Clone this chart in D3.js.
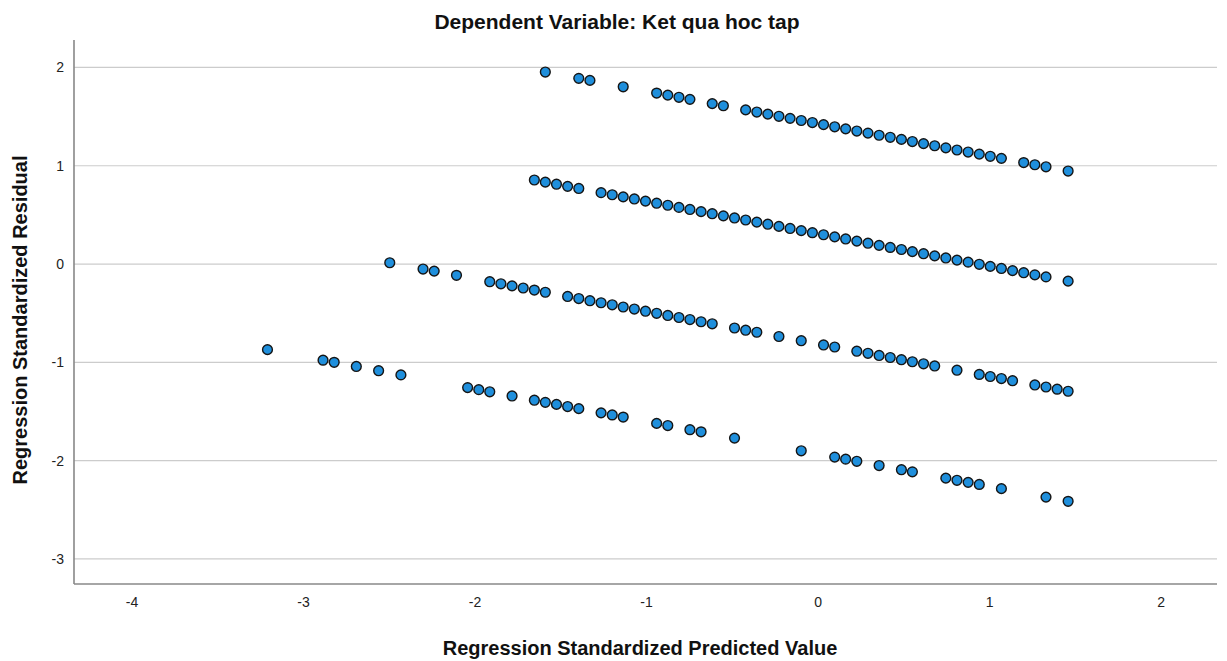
<!DOCTYPE html>
<html>
<head>
<meta charset="utf-8">
<script src="https://cdn.jsdelivr.net/npm/d3@7"></script>
<style>
  html, body { margin: 0; padding: 0; background: #ffffff; }
  svg { display: block; font-family: "Liberation Sans", Arial, sans-serif; }
</style>
</head>
<body>
<svg id="chart" width="1227" height="661"></svg>
<script>
// ---- data ----
const titleText = "Dependent Variable: Ket qua hoc tap";
const xTitle = "Regression Standardized Predicted Value";
const yTitle = "Regression Standardized Residual";
const xTicks = [-4, -3, -2, -1, 0, 1, 2];
const yTicks = [-3, -2, -1, 0, 1, 2];

const band1Pred = [-1.587,-1.392,-1.327,-1.133,-0.938,-0.873,-0.808,-0.744,-0.614,-0.549,-0.419,-0.354,-0.290,-0.225,-0.160,-0.095,-0.030,0.035,0.100,0.164,0.229,0.294,0.359,0.424,0.489,0.553,0.618,0.683,0.748,0.813,0.878,0.943,1.007,1.072,1.202,1.267,1.332,1.461];
const band1Resid = [1.953,1.889,1.868,1.803,1.739,1.718,1.696,1.675,1.632,1.610,1.568,1.546,1.525,1.503,1.482,1.460,1.439,1.418,1.396,1.375,1.353,1.332,1.310,1.289,1.268,1.246,1.225,1.203,1.182,1.160,1.139,1.118,1.096,1.075,1.032,1.010,0.989,0.946];

const band2Pred = [-1.651,-1.587,-1.522,-1.457,-1.392,-1.262,-1.197,-1.133,-1.068,-1.003,-0.938,-0.873,-0.808,-0.744,-0.679,-0.614,-0.549,-0.484,-0.419,-0.354,-0.290,-0.225,-0.160,-0.095,-0.030,0.035,0.100,0.164,0.229,0.294,0.359,0.424,0.489,0.553,0.618,0.683,0.748,0.813,0.878,0.943,1.007,1.072,1.137,1.202,1.267,1.332,1.461];
const band2Resid = [0.855,0.833,0.812,0.790,0.769,0.726,0.705,0.683,0.662,0.640,0.619,0.598,0.576,0.555,0.533,0.512,0.490,0.469,0.448,0.426,0.405,0.383,0.362,0.340,0.319,0.298,0.276,0.255,0.233,0.212,0.190,0.169,0.148,0.126,0.105,0.083,0.062,0.040,0.019,-0.003,-0.024,-0.045,-0.067,-0.088,-0.110,-0.131,-0.174];

const band3Pred = [-2.494,-2.300,-2.235,-2.105,-1.911,-1.846,-1.781,-1.716,-1.651,-1.587,-1.457,-1.392,-1.327,-1.262,-1.197,-1.133,-1.068,-1.003,-0.938,-0.873,-0.808,-0.744,-0.679,-0.614,-0.484,-0.419,-0.354,-0.225,-0.095,0.035,0.100,0.229,0.294,0.359,0.424,0.489,0.553,0.618,0.683,0.813,0.943,1.007,1.072,1.137,1.267,1.332,1.397,1.461];
const band3Resid = [0.013,-0.051,-0.072,-0.115,-0.180,-0.201,-0.222,-0.244,-0.265,-0.287,-0.330,-0.351,-0.373,-0.394,-0.415,-0.437,-0.458,-0.480,-0.501,-0.523,-0.544,-0.565,-0.587,-0.608,-0.651,-0.673,-0.694,-0.737,-0.780,-0.823,-0.844,-0.887,-0.908,-0.930,-0.951,-0.973,-0.994,-1.015,-1.037,-1.080,-1.123,-1.144,-1.165,-1.187,-1.230,-1.251,-1.273,-1.294];

const band4Pred = [-3.207,-2.883,-2.818,-2.689,-2.559,-2.429,-2.040,-1.975,-1.911,-1.781,-1.651,-1.587,-1.522,-1.457,-1.392,-1.262,-1.197,-1.133,-0.938,-0.873,-0.744,-0.679,-0.484,-0.095,0.100,0.164,0.229,0.359,0.489,0.553,0.748,0.813,0.878,0.943,1.072,1.332,1.461];
const band4Resid = [-0.871,-0.978,-1.000,-1.042,-1.085,-1.128,-1.257,-1.278,-1.300,-1.342,-1.385,-1.407,-1.428,-1.450,-1.471,-1.514,-1.535,-1.557,-1.621,-1.643,-1.685,-1.707,-1.771,-1.900,-1.964,-1.985,-2.007,-2.050,-2.092,-2.114,-2.178,-2.200,-2.221,-2.242,-2.285,-2.371,-2.414];

// ---- layout ----
const svg = d3.select("#chart");
const plotL = 74, plotR = 1217, plotT = 40, plotB = 584;

const x = d3.scaleLinear().domain([-4.335, 2.329]).range([plotL, plotR]);
const y = d3.scaleLinear().domain([-3.255, 2.279]).range([plotB, plotT]);

// gridlines
svg.append("g")
  .selectAll("line")
  .data(yTicks)
  .join("line")
  .attr("x1", plotL).attr("x2", plotR)
  .attr("y1", d => y(d)).attr("y2", d => y(d))
  .attr("stroke", "#cccccc")
  .attr("stroke-width", 1.2);

// points
const bands = [
  [band1Pred, band1Resid],
  [band2Pred, band2Resid],
  [band3Pred, band3Resid],
  [band4Pred, band4Resid]
];
const pts = [];
bands.forEach(([px, ry]) => px.forEach((v, i) => pts.push({p: v, r: ry[i]})));

svg.append("g")
  .selectAll("circle")
  .data(pts)
  .join("circle")
  .attr("cx", d => x(d.p))
  .attr("cy", d => y(d.r))
  .attr("r", 4.9)
  .attr("fill", "#1f8fdc")
  .attr("stroke", "#151515")
  .attr("stroke-width", 1.4);

// axes
const fmt = d => String(d);
const xAxis = svg.append("g")
  .attr("transform", `translate(0,${plotB})`)
  .call(d3.axisBottom(x).tickValues(xTicks).tickSize(0).tickPadding(13).tickFormat(fmt));
const yAxis = svg.append("g")
  .attr("transform", `translate(${plotL},0)`)
  .call(d3.axisLeft(y).tickValues(yTicks).tickSize(0).tickPadding(10).tickFormat(fmt));

[xAxis, yAxis].forEach(g => {
  g.select(".domain").attr("stroke", "#888888").attr("stroke-width", 1.6);
  g.selectAll("text").attr("font-size", 14).attr("fill", "#222").attr("font-family", "Liberation Sans, Arial, sans-serif");
});
yAxis.select(".domain").attr("d", `M0,${plotT}V${plotB}`);
xAxis.select(".domain").attr("d", `M${plotL},0H${plotR}`);

// titles
svg.append("text")
  .attr("x", 617).attr("y", 29)
  .attr("text-anchor", "middle")
  .attr("font-size", 21).attr("font-weight", "bold").attr("fill", "#111")
  .text(titleText);

svg.append("text")
  .attr("x", 640).attr("y", 655)
  .attr("text-anchor", "middle")
  .attr("font-size", 20).attr("font-weight", "bold").attr("fill", "#111")
  .text(xTitle);

svg.append("text")
  .attr("transform", "translate(27,320) rotate(-90)")
  .attr("text-anchor", "middle")
  .attr("font-size", 20).attr("font-weight", "bold").attr("fill", "#111")
  .text(yTitle);
</script>
</body>
</html>
